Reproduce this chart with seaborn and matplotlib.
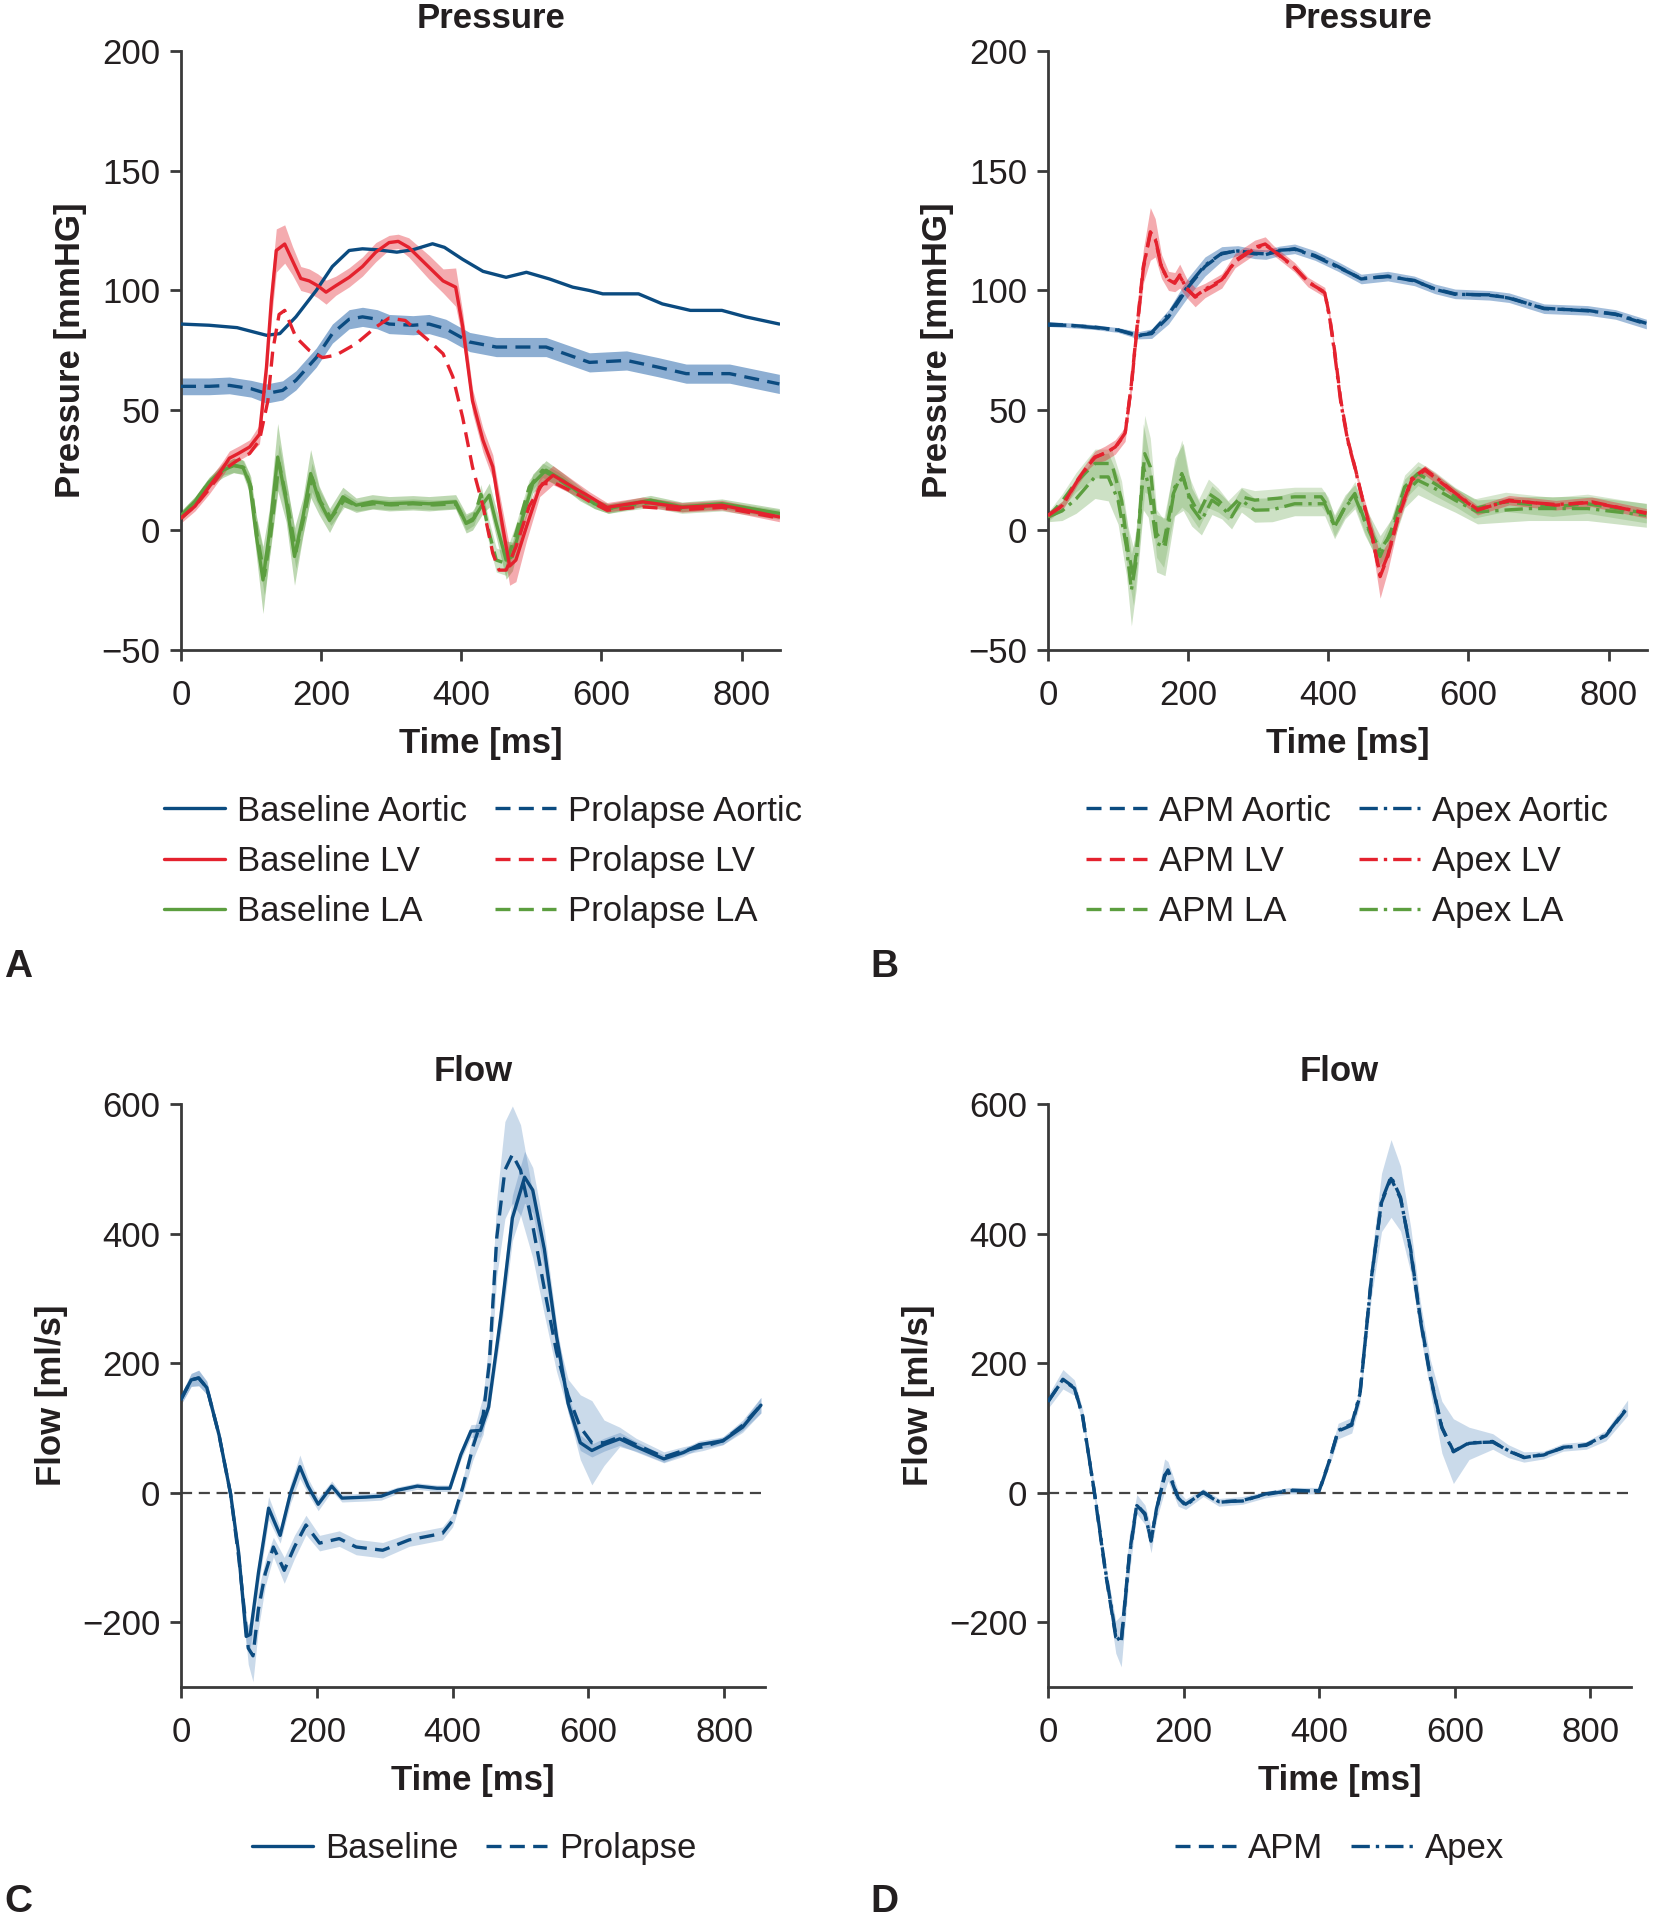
import numpy as np
import matplotlib
matplotlib.use("Agg")
import matplotlib.pyplot as plt
import seaborn as sns

# ======================= DATA =======================
# ---------- Panel A : Pressure, Baseline vs Prolapse ----------
a_base_aortic_t = [0, 40, 80, 122, 141, 164, 193, 216, 240, 259, 280, 308, 331, 359, 376, 402, 431, 464, 493, 526,
                   559, 583, 602, 653, 687, 727, 772, 806, 854]
a_base_aortic_v = [86, 85.5, 84.5, 81.3, 82, 89, 100, 110, 116.7, 117.4, 117, 116, 117, 119.5, 118, 113, 108, 105.5, 107.6, 104.8,
                   101.4, 100, 98.6, 98.6, 94.4, 91.7, 91.7, 89, 86]

a_pro_aortic_t = [0, 40, 69, 100, 122, 145, 164, 193, 216, 240, 259, 280, 297, 331, 354, 378, 412, 450, 488, 521,
                  554, 583, 636, 681, 721, 783, 854]
a_pro_aortic_v = [60, 60, 60.4, 59, 57, 58.3, 62.5, 72, 82, 88, 89, 88, 86, 85.5, 86, 84, 78.5, 76.4, 76.4, 76.4,
                  73, 70, 70.8, 68, 65.3, 65.3, 61]
a_pro_aortic_sd = [3.5, 3.5, 3.5, 3.5, 4, 4, 4, 4, 4, 4, 4, 4, 4, 4, 4, 4, 4, 4, 4, 4,
                   4, 4, 4, 4, 4, 4, 4]

a_base_lv_t = [0, 20, 40, 60, 69, 82, 98, 112, 122, 129, 136, 148, 159, 171, 183, 195, 207, 221, 240, 259,
               278, 297, 310, 325, 354, 374, 392, 402, 416, 431, 445, 454, 469, 478, 493, 512, 531, 559, 583, 608,
               659, 715, 772, 854]
a_base_lv_v = [5, 10, 18, 26, 30, 32, 34.7, 40, 68, 96, 116.7, 119.4, 112.5, 105, 104, 102, 99.3, 102, 105.5, 110,
               116, 120, 120.5, 118, 109.7, 104, 101.4, 85, 54, 37.5, 26.4, 10, -15, -12.5, 1.4, 18, 22.9, 18, 14, 9.5,
               11.8, 9.5, 10.4, 5.5]
a_base_lv_sd = [2, 2, 3, 3, 3, 3, 3, 4, 6, 8, 9, 8, 6, 5, 5, 5, 5, 4, 4, 4,
                4, 3, 3, 4, 5, 5, 8, 6, 5, 5, 5, 6, 8, 9, 6, 4, 4, 3, 2, 2,
                2, 2, 2, 2]

a_pro_lv_t = [0, 20, 40, 60, 80, 98, 112, 124, 131, 140, 148, 164, 183, 202, 221, 250, 278, 297, 320, 354,
              374, 388, 402, 416, 431, 445, 454, 464, 478, 497, 516, 535, 564, 583, 608, 659, 715, 772, 854]
a_pro_lv_v = [5, 10, 17, 25, 29, 32, 37.5, 54, 75, 90, 91.7, 80.5, 75, 72, 73, 77.8, 84.7, 88.5, 87.5, 79,
              73.6, 64, 47, 26.4, 10, -9.7, -16.7, -16.7, -7, 10, 19.4, 19.4, 15.3, 12, 8.3, 9.7, 8.5, 9.5, 5]

a_base_la_t = [0, 20, 40, 60, 75, 88, 98, 107, 117, 126, 138, 150, 162, 174, 185, 197, 212, 231, 250, 273,
               297, 331, 354, 392, 407, 416, 431, 440, 450, 464, 473, 488, 502, 521, 545, 569, 590, 610, 670, 715,
               772, 854]
a_base_la_v = [6, 12, 20, 25, 27, 26.4, 19.4, -1.4, -20.8, -1.4, 30.5, 12.5, -11, 5.5, 23.6, 12.5, 4, 13.9, 10.4, 11.8,
               11, 11.4, 11, 11.8, 2.8, 4, 11, 14.6, 2.8, -12.5, -11, 5.5, 19.4, 25, 20.8, 15.3, 11, 9, 12.5, 9.7,
               11, 7]
a_base_la_sd = [2, 2, 2, 3, 3, 3, 4, 8, 14, 10, 14, 9, 12, 8, 10, 6, 5, 4, 3, 3,
                3, 3, 3, 3, 4, 4, 4, 5, 6, 8, 6, 5, 4, 4, 3, 3, 2, 2, 2, 2,
                2, 2]

a_pro_la_t = [0, 20, 40, 60, 75, 90, 100, 109, 119, 128, 140, 152, 164, 176, 187, 199, 214, 233, 252, 275,
              300, 331, 360, 392, 407, 418, 428, 440, 450, 464, 478, 497, 516, 540, 569, 590, 610, 670, 715, 772,
              854]
a_pro_la_v = [6, 12, 20, 25, 27, 26, 18, -3, -19, -2, 28, 11, -9, 6, 22, 12, 5, 12.5, 10, 11,
              10.5, 11, 10.5, 11, 3, 5, 15, -1.4, -12.5, -13.9, -1.4, 18, 25, 21, 15, 11, 9, 11.5, 9, 10,
              6.5]
a_pro_la_sd = [2, 2, 2, 2, 3, 3, 4, 6, 8, 6, 8, 6, 7, 5, 6, 4, 3, 3, 2, 2,
               2, 2, 2, 2, 3, 3, 4, 5, 5, 5, 4, 3, 3, 3, 2, 2, 2, 2, 2, 2,
               2]

# ---------- Panel B : Pressure, APM vs Apex ----------
b_aortic_t = [0, 30, 67, 100, 129, 148, 172, 200, 224, 248, 271, 295, 311, 330, 352, 381, 414, 447, 485, 523,
              552, 581, 630, 658, 708, 770, 810, 854]
b_apm_aortic_v = [86, 85.5, 84.7, 83.5, 81.3, 82, 89, 101.4, 110, 115.3, 116.7, 115.3, 115, 116.5, 117.4, 114.6, 110, 104.8, 106, 104,
                  100.7, 98.6, 98, 97, 92.4, 91.7, 90, 86]
b_apex_aortic_v = [85.5, 85.5, 84.5, 83.5, 81, 82.5, 90, 102, 110.5, 115.5, 116.5, 115.5, 115.3, 116.8, 117.2, 114.3, 109.7, 105, 105.8, 104.2,
                   100.5, 98.4, 98.2, 96.8, 92.6, 91.5, 90.2, 86.3]
b_aortic_sd = [1, 1, 1, 1, 1.5, 2, 3, 4, 4, 3, 2, 2, 2, 2, 2, 2, 2, 2, 2, 2,
               2, 2, 2, 2, 2, 2, 2, 2]

b_lv_t = [0, 20, 42, 59, 67, 81, 96, 110, 119, 126, 136, 146, 153, 162, 172, 181, 188, 198, 210, 224,
          248, 267, 295, 310, 322, 352, 371, 395, 402, 409, 418, 428, 438, 447, 462, 474, 485, 500, 519, 538,
          557, 581, 613, 658, 725, 776, 854]
b_apm_lv_v = [6.2, 10, 20.8, 27.8, 30.5, 32, 34.7, 40, 61, 82, 110, 123.6, 122, 110, 104, 103.5, 106, 101, 97.2, 100,
              104, 112.5, 118, 119.4, 116.7, 109.7, 103.5, 99.3, 89, 75, 54, 37.5, 26.4, 15.3, -1.4, -19.4, -11, 5.5, 20.8, 25,
              20.8, 15.3, 8.3, 12.5, 10.4, 11.8, 7]
b_apex_lv_v = [6, 10.2, 20.5, 27.5, 30.3, 32.2, 34.5, 40.5, 60, 81, 109, 124.5, 121.5, 109.5, 104.5, 103, 106.5, 100.5, 97.5, 100.5,
               104.5, 112, 117.5, 119, 116.5, 109.5, 103.8, 99, 88.5, 74, 53, 37, 26, 15, -2, -18.5, -10.5, 6, 21.5, 25.5,
               21.2, 15.5, 8.6, 12.2, 10.7, 11.5, 7.2]
b_lv_sd = [1.5, 2, 2, 2, 2.5, 3, 3, 3, 4, 5, 7, 11, 8, 5, 4, 4, 5, 4, 4, 3,
           3, 3, 3, 3, 2, 2, 2, 2, 2, 2, 2, 2, 2, 2, 4, 9, 6, 3, 2, 2,
           2, 2, 2, 2, 2, 2, 2]

b_apm_la_t = [0, 20, 40, 67, 91, 105, 114, 122, 129, 138, 146, 155, 165, 179, 191, 200, 215, 229, 243, 257,
              276, 295, 316, 352, 390, 400, 409, 424, 438, 452, 474, 490, 509, 528, 552, 581, 608, 653, 720, 770,
              854]
b_apm_la_v = [5.5, 12, 20, 27.8, 27.8, 12.5, -8.3, -19.4, -1.4, 31.9, 26.4, -1.4, -5.5, 15.3, 23.6, 15.3, 6.9, 15.3, 12.5, 8.3,
              13.9, 12.5, 13, 13.9, 13.9, 9.7, 1.4, 9.7, 15.3, 4, -11, 0, 18, 23.6, 19.4, 13.9, 9, 11.8, 9.7, 11,
              7]
b_apm_la_sd = [2, 3, 4, 6, 6, 8, 10, 12, 10, 16, 12, 10, 10, 10, 14, 8, 6, 6, 5, 4,
               4, 4, 4, 4, 4, 4, 4, 4, 5, 5, 5, 5, 5, 5, 5, 4, 4, 4, 4, 4,
               4]

b_apex_la_t = [0, 20, 40, 67, 86, 100, 112, 119, 126, 136, 143, 155, 167, 181, 193, 205, 219, 234, 248, 262,
               276, 295, 320, 352, 395, 409, 424, 438, 452, 474, 490, 509, 528, 552, 581, 613, 686, 770, 854]
b_apex_la_v = [5.5, 8, 13, 22.2, 22.2, 12.5, -7, -25, -12.5, 26.4, 19.4, -5.5, -7, 18, 22.2, 9.7, 4, 12.5, 9.7, 5.5,
               12.5, 8.3, 8.5, 11, 11, 1.4, 9.7, 13.9, 4, -8.3, -1.4, 15.3, 20.8, 17.4, 12.5, 7.6, 9, 9, 6.2]
b_apex_la_sd = [2, 4, 6, 9, 10, 10, 12, 15, 12, 18, 14, 12, 12, 12, 14, 8, 6, 6, 5, 5,
                5, 5, 5, 5, 5, 5, 5, 5, 6, 6, 6, 6, 6, 6, 5, 5, 5, 5, 5]

# ---------- Panel C : Flow, Baseline vs Prolapse ----------
c_base_t = [0, 15, 26, 38, 56, 73, 85, 96, 102, 114, 129, 146, 161, 175, 187, 202, 222, 237, 272, 295,
            319, 348, 377, 396, 412, 427, 441, 453, 471, 488, 506, 518, 535, 553, 570, 588, 605, 623, 646, 670,
            711, 740, 763, 798, 827, 854]
c_base_v = [144, 174, 177, 162, 89, -2, -94, -222, -219, -124, -24, -66, -2, 40, 10, -18, 10, -8.5, -7, -5.5,
            3.7, 10, 6.7, 6.7, 58.5, 95, 96, 132, 272, 424, 487, 467, 376, 241, 138, 77, 65, 74, 83, 71,
            52, 62, 74, 80, 101, 135]
c_base_sd = [8, 10, 12, 10, 8, 8, 10, 15, 20, 20, 18, 12, 15, 18, 12, 10, 8, 6, 6, 6,
             5, 5, 5, 5, 8, 10, 10, 12, 25, 35, 40, 35, 30, 20, 15, 12, 10, 10, 10, 8,
             6, 6, 6, 6, 8, 12]

c_pro_t = [0, 15, 26, 38, 56, 73, 85, 99, 106, 114, 124, 136, 152, 167, 184, 204, 233, 258, 297, 336,
           385, 400, 415, 430, 445, 454, 465, 477, 488, 500, 518, 535, 553, 570, 588, 605, 623, 646, 670, 711,
           740, 769, 798, 827, 854]
c_pro_v = [144, 174, 177, 162, 89, -2, -100, -240, -252, -180, -125, -84, -120, -84, -50, -78, -71, -84, -89, -73,
           -63, -43, 9, 71, 120, 200, 394, 498, 522, 498, 412, 315, 217, 150, 101, 77, 77, 86, 74, 55,
           65, 71, 80, 104, 135]
c_pro_sd = [8, 10, 12, 10, 8, 8, 12, 25, 40, 30, 20, 15, 20, 18, 15, 12, 12, 12, 12, 10,
            10, 10, 12, 20, 30, 40, 60, 75, 75, 70, 50, 40, 30, 25, 50, 65, 35, 15, 10, 8,
            6, 6, 6, 8, 12]

# ---------- Panel D : Flow, APM vs Apex ----------
d_t = [0, 22, 39, 51, 68, 85, 100, 108, 120, 131, 143, 152, 160, 172, 177, 192, 203, 229, 252, 287,
       321, 356, 400, 414, 428, 448, 460, 477, 492, 506, 520, 535, 549, 564, 581, 598, 621, 656, 679, 702,
       731, 760, 794, 823, 855]
d_apm_v = [140, 175, 162, 119, 3, -125, -223, -229, -95, -18, -34, -73, -27, 27, 33, -9, -18, 0, -15, -12,
           -3, 3, 3, 46, 95, 104, 149, 332, 448, 485, 454, 375, 271, 180, 101, 64, 76, 79, 64, 55,
           58, 70, 73, 88, 131]
d_apex_v = [141, 174, 161, 118, 4, -122, -220, -232, -98, -20, -32, -75, -25, 25, 35, -8, -20, 1, -14, -13,
            -2, 4, 2, 45, 96, 106, 152, 330, 450, 488, 456, 372, 268, 178, 100, 63, 77, 78, 65, 54,
            59, 69, 74, 89, 132]
d_sd = [10, 15, 12, 10, 10, 15, 25, 40, 30, 15, 15, 20, 15, 25, 15, 12, 8, 6, 6, 6,
        5, 5, 5, 8, 12, 12, 12, 30, 45, 60, 50, 35, 25, 25, 40, 50, 25, 12, 10, 8,
        6, 6, 6, 8, 12]

pressure_yticks = [-50, 0, 50, 100, 150, 200]
flow_yticks = [-200, 0, 200, 400, 600]
time_ticks = [0, 200, 400, 600, 800]

# ======================= STYLE =======================
sns.set_theme(style="ticks")
TXT = "#231f20"
plt.rcParams["font.family"] = ["Liberation Sans", "DejaVu Sans"]
plt.rcParams.update({
    "text.color": TXT, "axes.labelcolor": TXT,
    "xtick.color": "#3a3a3a", "ytick.color": "#3a3a3a",
    "xtick.labelcolor": TXT, "ytick.labelcolor": TXT,
    "axes.edgecolor": "#3a3a3a", "axes.linewidth": 2.0,
    "xtick.major.width": 2.0, "ytick.major.width": 2.0,
    "xtick.major.size": 8, "ytick.major.size": 8,
    "xtick.major.pad": 13, "ytick.major.pad": 7,
    "font.size": 25,
})

BLUE = "#0b4b80"
RED = "#e4222e"
GREEN = "#5c9e3f"
BLUE_BAND = "#2f6cae"
DASH = (0, (4.5, 2.5))
DASHDOT = (0, (5.5, 1.8, 1.0, 1.8))
LW = 2.4
FS = 25

fig = plt.figure(figsize=(16.53, 19.2), dpi=100)
axA = fig.add_axes([0.1095, 0.6615, 0.3624, 0.3120])
axB = fig.add_axes([0.634, 0.6615, 0.3624, 0.3120])
axC = fig.add_axes([0.1095, 0.1214, 0.3533, 0.3036])
axD = fig.add_axes([0.634, 0.1214, 0.3527, 0.3036])


def band(ax, t, v, sd, color, alpha):
    lo = np.array(v, dtype=float) - np.array(sd, dtype=float)
    hi = np.array(v, dtype=float) + np.array(sd, dtype=float)
    ax.fill_between(t, lo, hi, color=color, alpha=alpha, linewidth=0, zorder=1)


def line(ax, t, v, color, ls, label, z):
    sns.lineplot(x=t, y=v, ax=ax, color=color, linestyle=ls, linewidth=LW,
                 label=label, errorbar=None, sort=False, zorder=z)


def style_axis(ax, title, ylabel, yticks, ylim, xlim, title_x=0.5):
    ax.set_xlim(*xlim)
    ax.set_ylim(*ylim)
    ax.set_xticks(time_ticks)
    ax.set_yticks(yticks)
    ax.tick_params(labelsize=FS, direction="out")
    sns.despine(ax=ax)
    ax.set_title(title, fontsize=FS, fontweight="bold", pad=16.5, x=title_x)
    ax.set_xlabel("Time [ms]", fontsize=FS, fontweight="bold", labelpad=11)
    ax.set_ylabel(ylabel, fontsize=FS, fontweight="bold", labelpad=10)


def legend(ax, order, ncol, anchor):
    h, l = ax.get_legend_handles_labels()
    d = dict(zip(l, h))
    ax.legend([d[k] for k in order], order, loc="center", bbox_to_anchor=anchor, ncol=ncol,
              frameon=False, fontsize=FS, handlelength=1.76, handletextpad=0.35,
              columnspacing=0.8, labelspacing=0.5)


# ---------- Panel A ----------
band(axA, a_pro_aortic_t, a_pro_aortic_v, a_pro_aortic_sd, BLUE_BAND, 0.55)
band(axA, a_base_la_t, a_base_la_v, a_base_la_sd, GREEN, 0.40)
band(axA, a_pro_la_t, a_pro_la_v, a_pro_la_sd, GREEN, 0.30)
band(axA, a_base_lv_t, a_base_lv_v, a_base_lv_sd, RED, 0.38)
line(axA, a_base_aortic_t, a_base_aortic_v, BLUE, "-", "Baseline Aortic", 3)
line(axA, a_pro_aortic_t, a_pro_aortic_v, BLUE, DASH, "Prolapse Aortic", 3)
line(axA, a_base_la_t, a_base_la_v, GREEN, "-", "Baseline LA", 4)
line(axA, a_pro_la_t, a_pro_la_v, GREEN, DASH, "Prolapse LA", 4)
line(axA, a_base_lv_t, a_base_lv_v, RED, "-", "Baseline LV", 5)
line(axA, a_pro_lv_t, a_pro_lv_v, RED, DASH, "Prolapse LV", 5)
style_axis(axA, "Pressure", "Pressure [mmHG]", pressure_yticks, (-50, 200), (0, 855), 0.517)
legend(axA, ["Baseline Aortic", "Baseline LV", "Baseline LA",
             "Prolapse Aortic", "Prolapse LV", "Prolapse LA"], 2, (0.504, -0.353))

# ---------- Panel B ----------
band(axB, b_aortic_t, b_apm_aortic_v, b_aortic_sd, BLUE_BAND, 0.45)
band(axB, b_apex_la_t, b_apex_la_v, b_apex_la_sd, GREEN, 0.30)
band(axB, b_apm_la_t, b_apm_la_v, b_apm_la_sd, GREEN, 0.25)
band(axB, b_lv_t, b_apm_lv_v, b_lv_sd, RED, 0.38)
line(axB, b_aortic_t, b_apm_aortic_v, BLUE, DASH, "APM Aortic", 3)
line(axB, b_aortic_t, b_apex_aortic_v, BLUE, DASHDOT, "Apex Aortic", 3)
line(axB, b_apm_la_t, b_apm_la_v, GREEN, DASH, "APM LA", 4)
line(axB, b_apex_la_t, b_apex_la_v, GREEN, DASHDOT, "Apex LA", 4)
line(axB, b_lv_t, b_apm_lv_v, RED, DASH, "APM LV", 5)
line(axB, b_lv_t, b_apex_lv_v, RED, DASHDOT, "Apex LV", 5)
style_axis(axB, "Pressure", "Pressure [mmHG]", pressure_yticks, (-50, 200), (0, 855), 0.517)
legend(axB, ["APM Aortic", "APM LV", "APM LA", "Apex Aortic", "Apex LV", "Apex LA"], 2, (0.499, -0.353))

# ---------- Panel C ----------
band(axC, c_base_t, c_base_v, c_base_sd, BLUE_BAND, 0.25)
band(axC, c_pro_t, c_pro_v, c_pro_sd, BLUE_BAND, 0.25)
axC.axhline(0, color="#444444", linestyle=(0, (5, 3)), linewidth=1.6, zorder=2)
line(axC, c_base_t, c_base_v, BLUE, "-", "Baseline", 4)
line(axC, c_pro_t, c_pro_v, BLUE, DASH, "Prolapse", 4)
style_axis(axC, "Flow", "Flow [ml/s]", flow_yticks, (-300, 600), (0, 860))
legend(axC, ["Baseline", "Prolapse"], 2, (0.502, -0.277))

# ---------- Panel D ----------
band(axD, d_t, d_apm_v, d_sd, BLUE_BAND, 0.25)
axD.axhline(0, color="#444444", linestyle=(0, (5, 3)), linewidth=1.6, zorder=2)
line(axD, d_t, d_apm_v, BLUE, DASH, "APM", 4)
line(axD, d_t, d_apex_v, BLUE, DASHDOT, "Apex", 4)
style_axis(axD, "Flow", "Flow [ml/s]", flow_yticks, (-300, 600), (0, 860))
legend(axD, ["APM", "Apex"], 2, (0.5, -0.277))

# ---------- panel letters ----------
for letter, x, y in [("A", 4, 967), ("B", 870, 967), ("C", 4, 1902), ("D", 870, 1902)]:
    fig.text(x / 1653, 1 - y / 1920, letter, fontsize=28, fontweight="bold",
             ha="left", va="center", color=TXT)

fig.savefig("out.png", dpi=100)
